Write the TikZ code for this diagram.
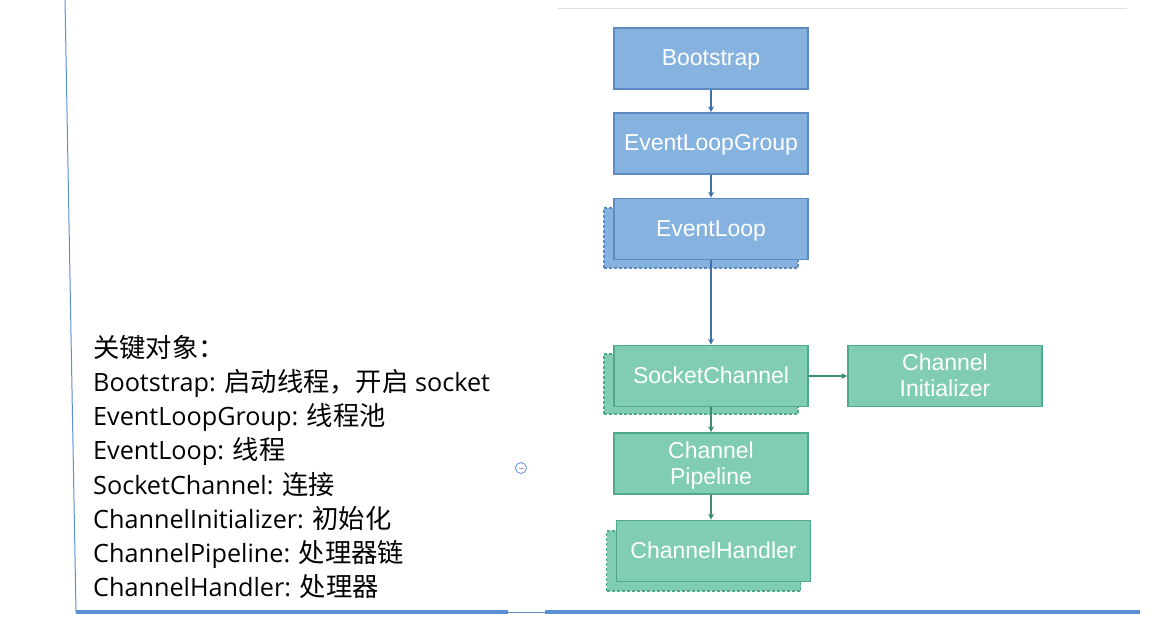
\documentclass[tikz,border=0pt]{standalone}
\usepackage{fontspec}
\setmainfont{Liberation Sans}
\newfontfamily\cjk{Noto Sans CJK SC}
\newfontfamily\lat{Open Sans}
\usetikzlibrary{arrows.meta}
\definecolor{bfill}{HTML}{86B2E0}
\definecolor{bdraw}{HTML}{5B8BC2}
\definecolor{barr}{HTML}{3F70A8}
\definecolor{gfill}{HTML}{80CDB4}
\definecolor{gdraw}{HTML}{4FAA8C}
\definecolor{garr}{HTML}{3C8C72}
\definecolor{frameblue}{HTML}{5B8FD5}
\newcommand\kcn[1]{{\cjk\fontsize{26.3}{30}\selectfont #1}}
\newcommand\klat[1]{{\lat\fontsize{25.2}{30}\selectfont #1}}
\tikzset{
  box/.style={line width=1.6pt, minimum width=194pt, minimum height=61pt, inner sep=0pt,
    text=white, align=center, font=\fontsize{23}{26}\selectfont, text depth=0.12em},
  bluebox/.style={box, draw=bdraw, fill=bfill},
  greenbox/.style={box, draw=gdraw, fill=gfill},
  shadowb/.style={draw=bdraw, fill=bfill, dash pattern=on 3pt off 2pt, line width=1.3pt, minimum width=194pt, minimum height=60pt, inner sep=0pt},
  shadowg/.style={draw=gdraw, fill=gfill, dash pattern=on 3pt off 2pt, line width=1.3pt, minimum width=194pt, minimum height=60pt, inner sep=0pt},
  barrow/.style={draw=barr, line width=1.2pt, -{Stealth[length=6pt,width=6pt]}},
  garrow/.style={draw=garr, line width=1.2pt, -{Stealth[length=6pt,width=6pt]}},
  keyline/.style={anchor=base west, inner sep=0pt},
}
\begin{document}
\begin{tikzpicture}[x=1pt,y=-1pt]
\useasboundingbox (0,0) rectangle (1174,635);
% frame lines
\draw[frameblue, line width=1pt] (65,0) -- (76,612);
\draw[frameblue, line width=3.5pt] (76,612) -- (508,612);
\draw[frameblue, line width=1pt] (508,612.5) -- (545,612.5);
\draw[frameblue, line width=3.5pt] (545,612) -- (1140,612);
\draw[black!12, line width=1pt] (558,8) -- (1127,8);
% collapse icon
\node[draw=frameblue, circle, minimum size=11pt, inner sep=0pt, line width=0.8pt] (icon) at (521,468) {};
\draw[black!35, line width=1pt] ([xshift=-2.5pt]icon.center) -- ([xshift=2.5pt]icon.center);
% shadows
\node[shadowb] (elS) at (701,238) {};
\node[shadowg] (scS) at (701,384) {};
\node[shadowg] (chS) at (703.5,561) {};
% boxes
\node[bluebox] (boot) at (711,58.5) {Bootstrap};
\node[bluebox] (elg) at (711,143.5) {EventLoopGroup};
\node[bluebox] (el) at (711,229) {EventLoop};
\node[greenbox] (sc) at (711,376) {SocketChannel};
\node[greenbox] (ci) at (945,376) {Channel\\Initializer};
\node[greenbox] (cp) at (711,463.5) {Channel\\Pipeline};
\node[greenbox] (ch) at (713.5,551) {ChannelHandler};
% arrows
\draw[barrow] (boot) -- (elg);
\draw[barrow] (elg) -- (el);
\draw[barrow] (el) -- (sc);
\draw[garrow] (sc) -- (ci);
\draw[garrow] (sc) -- (cp);
\draw[garrow] (cp.south) -- (cp.south |- ch.north);
% key text
\node[keyline] (l1) at (93,357) {\kcn{关键对象：}};
\node[keyline] (l2) at (93,391) {\klat{Bootstrap: }\kcn{启动线程，开启}\klat{ socket}};
\node[keyline] (l3) at (93,425) {\klat{EventLoopGroup: }\kcn{线程池}};
\node[keyline] (l4) at (93,459) {\klat{EventLoop: }\kcn{线程}};
\node[keyline] (l5) at (93,494) {\klat{SocketChannel: }\kcn{连接}};
\node[keyline] (l6) at (93,528) {\klat{ChannelInitializer: }\kcn{初始化}};
\node[keyline] (l7) at (93,562) {\klat{ChannelPipeline: }\kcn{处理器链}};
\node[keyline] (l8) at (93,596) {\klat{ChannelHandler: }\kcn{处理器}};
\end{tikzpicture}
\end{document}
